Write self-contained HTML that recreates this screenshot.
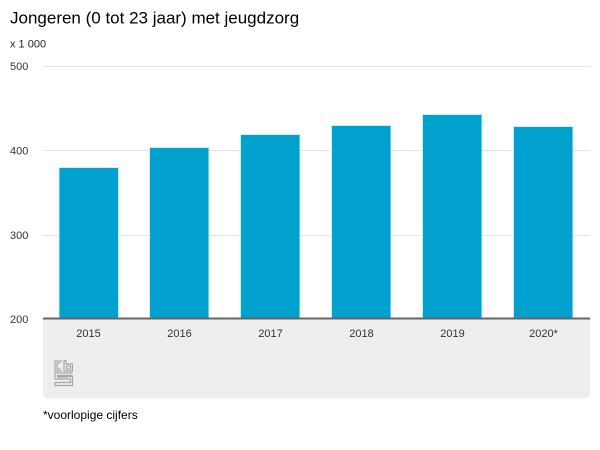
<!DOCTYPE html>
<html>
<head>
<meta charset="utf-8">
<style>
  html,body{margin:0;padding:0;background:#fff;}
  body{width:600px;height:450px;overflow:hidden;font-family:"Liberation Sans",Arial,sans-serif;}
  svg{display:block;}
</style>
</head>
<body>
<svg width="600" height="450" viewBox="0 0 600 450" xmlns="http://www.w3.org/2000/svg" font-family="Liberation Sans, Arial, sans-serif">
  <rect x="0" y="0" width="600" height="450" fill="#ffffff"/>
  <!-- title -->
  <text x="10" y="23.5" font-size="17" fill="#000">Jongeren (0 tot 23 jaar) met jeugdzorg</text>
  <text x="10" y="47.5" font-size="11" fill="#222">x 1 000</text>

  <!-- gray x-axis panel -->
  <path d="M43 319 H590 V393.5 A5 5 0 0 1 585 398.5 H48 A5 5 0 0 1 43 393.5 Z" fill="#eeeeee"/>

  <!-- gridlines -->
  <g stroke="#e3e3e3" stroke-width="1">
    <line x1="43" y1="66.5" x2="590" y2="66.5"/>
    <line x1="43" y1="150.5" x2="590" y2="150.5"/>
    <line x1="43" y1="235.5" x2="590" y2="235.5"/>
  </g>

  <!-- y labels -->
  <g font-size="11" fill="#333">
    <text x="10" y="70">500</text>
    <text x="10" y="154.5">400</text>
    <text x="10" y="239">300</text>
    <text x="10" y="323">200</text>
  </g>

  <!-- bars -->
  <g fill="#00a1cd" stroke="#cdeef7" stroke-width="1">
    <rect x="59" y="167.5" width="59.5" height="151"/>
    <rect x="149.5" y="147.5" width="59.5" height="171"/>
    <rect x="240.5" y="134.5" width="59.5" height="184"/>
    <rect x="331.5" y="125.5" width="59.5" height="193"/>
    <rect x="422.5" y="114.5" width="59.5" height="204"/>
    <rect x="513.5" y="126.5" width="59.5" height="192"/>
  </g>

  <!-- baseline -->
  <rect x="43" y="317.5" width="547" height="2" fill="#666666"/>

  <!-- x labels -->
  <g font-size="11" fill="#333" text-anchor="middle">
    <text x="88.5" y="337">2015</text>
    <text x="179.5" y="337">2016</text>
    <text x="270.5" y="337">2017</text>
    <text x="361.5" y="337">2018</text>
    <text x="452.5" y="337">2019</text>
    <text x="543.5" y="337">2020*</text>
  </g>

  <!-- cbs logo -->
  <g fill="none" stroke="#a8a8a8" stroke-width="1.2">
    <!-- c -->
    <path d="M62 361 H55 V371 H62"/>
    <path d="M60.5 363 H57 V369 H60.5"/>
    <!-- b -->
    <path d="M64 360.5 V371 H72.5 V364 H66 V360.5 Z"/>
    <rect x="66.5" y="366" width="4" height="3"/>
    <!-- s -->
    <path d="M72.5 373 H55 V379 H70.5 V382.5 H55 V385.5 H72.5 V376.5 H57.5 V375.5 H72.5"/>
    <path d="M57 377 H68 "/>
  </g>

  <!-- footnote -->
  <text x="43" y="419" font-size="12" fill="#000">*voorlopige cijfers</text>
</svg>
</body>
</html>
